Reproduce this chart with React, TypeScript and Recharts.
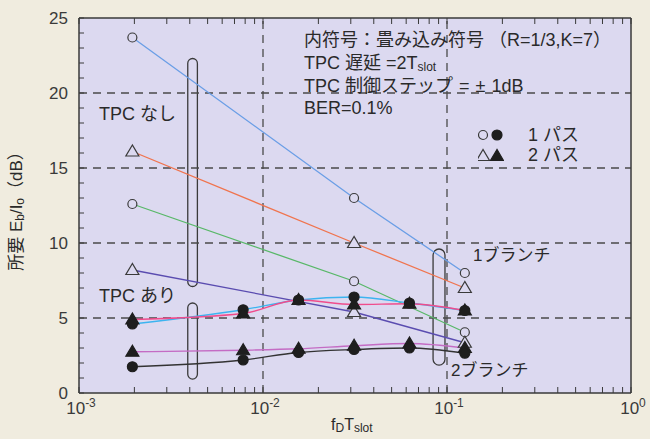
import React from "react";
import {
  LineChart,
  Line,
  XAxis,
  YAxis,
  CartesianGrid,
  ReferenceLine,
  ReferenceArea,
} from "recharts";

// x positions (fD*Tslot)
const xNoTpc = [0.00195, 0.03125, 0.125];
const xTpc = [0.00195, 0.0078, 0.0156, 0.03125, 0.0625, 0.125];

// required Eb/Io (dB), without TPC
const noTpc1Path1Br = [23.7, 13.0, 8.0];
const noTpc2Path1Br = [16.1, 10.0, 7.0];
const noTpc1Path2Br = [12.6, 7.45, 4.05];
const noTpc2Path2Br = [8.2, 5.4, 3.35];

// required Eb/Io (dB), with TPC
const tpc1Path1Br = [4.6, 5.55, 6.2, 6.4, 6.0, 5.5];
const tpc2Path1Br = [4.9, 5.3, 6.2, 5.9, 5.95, 5.5];
const tpc2Path2Br = [2.75, 2.85, 2.95, 3.15, 3.3, 3.0];
const tpc1Path2Br = [1.75, 2.2, 2.7, 2.9, 3.0, 2.65];

const xDecades = [0.001, 0.01, 0.1, 1];
const xDecadeExp = ["-3", "-2", "-1", "0"];
const yTicks = Array.from({ length: 26 }, (_, i) => i);
const xTicks = [0.001, 0.01, 0.1].flatMap((d) =>
  [1, 2, 3, 4, 5, 6, 7, 8, 9].map((m) => +(d * m).toPrecision(3))
).concat([1]);

const BG = "#dcd9f0";
const PAGE = "#f0ecdf";
const INK = "#3a3a3a";
const FONT = '"Liberation Sans", "Noto Sans CJK JP", sans-serif';

type Kind = "circle" | "triangle";

interface Series {
  name: string;
  xs: number[];
  ys: number[];
  color: string;
  kind: Kind;
  filled: boolean;
  curved: boolean;
}

const series: Series[] = [
  { name: "noTpc1Path1Br", xs: xNoTpc, ys: noTpc1Path1Br, color: "#6a9ee6", kind: "circle", filled: false, curved: false },
  { name: "noTpc2Path1Br", xs: xNoTpc, ys: noTpc2Path1Br, color: "#f0744e", kind: "triangle", filled: false, curved: false },
  { name: "noTpc1Path2Br", xs: xNoTpc, ys: noTpc1Path2Br, color: "#58b868", kind: "circle", filled: false, curved: false },
  { name: "noTpc2Path2Br", xs: xNoTpc, ys: noTpc2Path2Br, color: "#5a4cb0", kind: "triangle", filled: false, curved: false },
  { name: "tpc1Path1Br", xs: xTpc, ys: tpc1Path1Br, color: "#3cb4f0", kind: "circle", filled: true, curved: true },
  { name: "tpc2Path1Br", xs: xTpc, ys: tpc2Path1Br, color: "#f04c8c", kind: "triangle", filled: true, curved: true },
  { name: "tpc2Path2Br", xs: xTpc, ys: tpc2Path2Br, color: "#c46cc4", kind: "triangle", filled: true, curved: true },
  { name: "tpc1Path2Br", xs: xTpc, ys: tpc1Path2Br, color: "#333333", kind: "circle", filled: true, curved: true },
];

const toPoints = (xs: number[], ys: number[]) => xs.map((x, i) => ({ x, y: ys[i] }));

function Marker({ cx, cy, kind, filled }: { cx: number; cy: number; kind: Kind; filled: boolean }) {
  const fill = filled ? "#1e1e1e" : BG;
  const stroke = filled ? "#1e1e1e" : INK;
  if (kind === "circle") {
    return <circle cx={cx} cy={cy} r={filled ? 5 : 4.5} fill={fill} stroke={stroke} strokeWidth={1.2} />;
  }
  const pts = `${cx},${cy - 6.5} ${cx - 6.5},${cy + 4.5} ${cx + 6.5},${cy + 4.5}`;
  return <polygon points={pts} fill={fill} stroke={stroke} strokeWidth={1.2} />;
}

function makeDot(kind: Kind, filled: boolean) {
  return (props: any) => {
    const { cx, cy, index } = props;
    if (cx == null || cy == null) return <g key={index} />;
    return (
      <g key={index}>
        <Marker cx={cx} cy={cy} kind={kind} filled={filled} />
      </g>
    );
  };
}

const LeftTick = (props: any) => {
  const { x, y, payload } = props;
  return (
    <g>
      <line x1={x} x2={x + 5} y1={y} y2={y} stroke={INK} strokeWidth={1} />
      {payload.value % 5 === 0 && (
        <text x={x - 11} y={y} dy="0.36em" textAnchor="end" fontSize={17} fill={INK} fontFamily={FONT}>
          {payload.value}
        </text>
      )}
    </g>
  );
};

const RightTick = (props: any) => {
  const { x, y } = props;
  return <line x1={x - 5} x2={x} y1={y} y2={y} stroke={INK} strokeWidth={1} />;
};

const BottomTick = (props: any) => {
  const { x, y, payload } = props;
  const di = xDecades.findIndex((d) => Math.abs(d - payload.value) < 1e-9);
  return (
    <g>
      <line x1={x} x2={x} y1={y} y2={y - 6} stroke={INK} strokeWidth={1} />
      {di >= 0 && (
        <text x={x + 2} y={y + 21} textAnchor="middle" fontSize={17} fill={INK} fontFamily={FONT}>
          <tspan>10</tspan>
          <tspan dy={-7} fontSize={12}>{xDecadeExp[di]}</tspan>
        </text>
      )}
    </g>
  );
};

const TopTick = (props: any) => {
  const { x, y } = props;
  return <line x1={x} x2={x} y1={y} y2={y + 6} stroke={INK} strokeWidth={1} />;
};

const pill = (p: any) => (
  <rect x={p.x} y={p.y} width={p.width} height={p.height} rx={p.width / 2} fill="none" stroke={INK} strokeWidth={1.3} />
);

const txt: React.CSSProperties = {
  position: "absolute",
  whiteSpace: "nowrap",
  fontFamily: FONT,
  fontSize: 18,
  lineHeight: "20px",
  color: "#2a2a2a",
};
const sub: React.CSSProperties = { fontSize: 12, verticalAlign: "-2px" };
const gap: React.CSSProperties = { marginLeft: 6 };

const LegendMarks = ({ kind }: { kind: Kind }) => (
  <svg width={26} height={14} style={{ position: "absolute", left: 0, top: 3 }}>
    <Marker cx={5} cy={kind === "circle" ? 7 : 8} kind={kind} filled={false} />
    <Marker cx={19} cy={kind === "circle" ? 7 : 8} kind={kind} filled={true} />
  </svg>
);

export default function App() {
  return (
    <div style={{ position: "absolute", left: 0, top: 0, width: 650, height: 439, background: PAGE, overflow: "hidden" }}>
      <LineChart width={650} height={439} margin={{ top: 17, right: 18, bottom: 16, left: 39 }}>
        <CartesianGrid fill={BG} fillOpacity={1} horizontal={false} vertical={false} />
        <XAxis
          xAxisId="b"
          dataKey="x"
          type="number"
          scale="log"
          domain={[0.001, 1]}
          allowDataOverflow
          ticks={xTicks}
          interval={0}
          height={30}
          tickSize={0}
          tickMargin={0}
          tickLine={false}
          axisLine={{ stroke: INK, strokeWidth: 1.5 }}
          tick={<BottomTick />}
        />
        <XAxis
          xAxisId="t"
          orientation="top"
          dataKey="x"
          type="number"
          scale="log"
          domain={[0.001, 1]}
          allowDataOverflow
          ticks={xTicks}
          interval={0}
          height={1}
          tickSize={0}
          tickMargin={0}
          tickLine={false}
          axisLine={{ stroke: INK, strokeWidth: 1.5 }}
          tick={<TopTick />}
        />
        <YAxis
          yAxisId="l"
          type="number"
          domain={[0, 25]}
          ticks={yTicks}
          interval={0}
          width={40}
          tickSize={0}
          tickMargin={0}
          tickLine={false}
          axisLine={{ stroke: INK, strokeWidth: 1.5 }}
          tick={<LeftTick />}
        />
        <YAxis
          yAxisId="r"
          orientation="right"
          type="number"
          domain={[0, 25]}
          ticks={yTicks}
          interval={0}
          width={1}
          tickSize={0}
          tickMargin={0}
          tickLine={false}
          axisLine={{ stroke: INK, strokeWidth: 1.5 }}
          tick={<RightTick />}
        />
        {[5, 10, 15, 20].map((v) => (
          <ReferenceLine key={`h${v}`} xAxisId="b" yAxisId="l" y={v} stroke="#4a4a4a" strokeWidth={1.3} strokeDasharray="8 6" />
        ))}
        {[0.01, 0.1].map((v) => (
          <ReferenceLine key={`v${v}`} xAxisId="b" yAxisId="l" x={v} stroke="#4a4a4a" strokeWidth={1.3} strokeDasharray="8 6" />
        ))}
        {series.map((s) => (
          <Line
            key={s.name}
            xAxisId="b"
            yAxisId="l"
            data={toPoints(s.xs, s.ys)}
            dataKey="y"
            type={s.curved ? "monotone" : "linear"}
            stroke={s.color}
            strokeWidth={1.3}
            dot={makeDot(s.kind, s.filled)}
            activeDot={false}
            isAnimationActive={false}
          />
        ))}
        <ReferenceArea xAxisId="b" yAxisId="l" x1={0.0039} x2={0.0044} y1={7.1} y2={22.3} shape={pill} />
        <ReferenceArea xAxisId="b" yAxisId="l" x1={0.0039} x2={0.0044} y1={0.93} y2={6.0} shape={pill} />
        <ReferenceArea xAxisId="b" yAxisId="l" x1={0.084} x2={0.0975} y1={1.86} y2={9.6} shape={pill} />
      </LineChart>

      <div style={{ ...txt, left: 304, top: 30 }}>内符号：畳み込み符号 （R=1/3,K=7）</div>
      <div style={{ ...txt, left: 304, top: 53 }}>TPC 遅延 =2T<span style={sub}>slot</span></div>
      <div style={{ ...txt, left: 304, top: 76 }}>
        TPC 制御ステップ<span style={gap}>=</span><span style={gap}>±</span><span style={gap}>1dB</span>
      </div>
      <div style={{ ...txt, left: 304, top: 98 }}>BER=0.1%</div>

      <div style={{ ...txt, left: 478, top: 125, paddingLeft: 50 }}>
        <LegendMarks kind="circle" />1 パス
      </div>
      <div style={{ ...txt, left: 478, top: 145, paddingLeft: 50 }}>
        <LegendMarks kind="triangle" />2 パス
      </div>

      <div style={{ ...txt, left: 99, top: 104 }}>TPC なし</div>
      <div style={{ ...txt, left: 99, top: 286 }}>TPC あり</div>
      <div style={{ ...txt, fontSize: 17, left: 473, top: 246 }}>1ブランチ</div>
      <div style={{ ...txt, fontSize: 17, left: 451, top: 361 }}>2ブランチ</div>

      <div
        style={{
          ...txt,
          fontSize: 17,
          left: 18,
          top: 207,
          transform: "translate(-50%, -50%) rotate(-90deg)",
        }}
      >
        所要 E<span style={sub}>b</span>/I<span style={sub}>o</span>（dB）
      </div>
      <div style={{ ...txt, fontSize: 16, lineHeight: "18px", left: 331, top: 416 }}>
        f<span style={sub}>D</span>T<span style={sub}>slot</span>
      </div>
    </div>
  );
}
